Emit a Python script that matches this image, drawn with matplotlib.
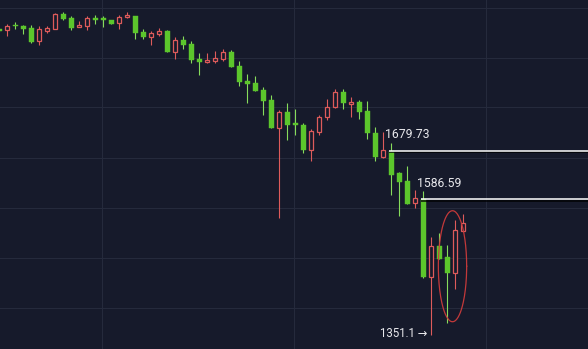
import numpy as np
import matplotlib
matplotlib.use("Agg")
import matplotlib.pyplot as plt
import matplotlib.patheffects as pe
from matplotlib.ticker import NullLocator

# ---- data ----
opens = [1939.4, 1937.1, 1947.5, 1946.3, 1941.7, 1912.8, 1935.5, 1940.1, 1974.1, 1964.8,
         1943.3, 1946.3, 1964.8, 1964.8, 1960.1, 1952.5, 1966.4, 1969.4, 1932.6, 1920.6,
         1928.0, 1934.1, 1887.5, 1914.4, 1905.4, 1872.6, 1865.3, 1866.8, 1872.6, 1887.5,
         1856.5, 1824.5, 1820.2, 1804.6, 1783.4, 1725.4, 1758.4, 1735.0, 1732.2, 1681.1,
         1717.3, 1747.4, 1768.1, 1800.3, 1775.0, 1779.2, 1759.8, 1715.9, 1667.6, 1679.73,
         1635.5, 1621.3, 1578.5, 1586.59, 1446.4, 1500.9, 1482.0, 1453.3, 1528.2]
highs = [1941.7, 1950.9, 1955.5, 1948.6, 1948.6, 1946.3, 1946.3, 1975.7, 1978.7, 1969.4,
         1957.1, 1969.4, 1972.4, 1969.4, 1961.3, 1972.4, 1978.7, 1970.5, 1938.7, 1935.5,
         1941.7, 1937.1, 1920.6, 1923.5, 1912.8, 1884.6, 1885.9, 1890.3, 1893.5, 1891.9,
         1866.8, 1839.0, 1834.7, 1811.7, 1794.6, 1762.5, 1776.5, 1764.0, 1736.3, 1722.7,
         1752.8, 1786.2, 1806.1, 1806.1, 1790.4, 1783.4, 1781.9, 1728.1, 1717.3, 1695.7,
         1638.0, 1649.6, 1603.5, 1601.1, 1517.5, 1524.7, 1502.2, 1547.7, 1558.7]
lows = [1932.6, 1923.5, 1939.4, 1928.0, 1906.5, 1902.4, 1931.0, 1938.7, 1960.1, 1937.1,
        1942.9, 1937.1, 1950.9, 1943.3, 1949.8, 1940.1, 1965.9, 1917.4, 1917.4, 1903.8,
        1923.5, 1886.4, 1872.6, 1893.5, 1863.8, 1836.2, 1862.4, 1862.4, 1868.2, 1854.3,
        1813.2, 1777.8, 1802.5, 1751.5, 1724.8, 1551.4, 1701.1, 1710.6, 1675.7, 1660.0,
        1711.8, 1741.8, 1766.7, 1764.0, 1747.4, 1744.5, 1703.7, 1658.8, 1664.4, 1593.5,
        1555.1, 1576.7, 1569.8, 1445.9, 1351.1, 1477.2, 1370.9, 1426.1, 1527.7]
closes = [1934.8, 1946.3, 1945.2, 1938.7, 1909.9, 1938.7, 1941.7, 1974.1, 1963.1, 1941.7,
          1949.3, 1964.8, 1960.1, 1960.1, 1950.9, 1967.8, 1971.0, 1931.0, 1920.6, 1931.0,
          1934.1, 1887.5, 1914.4, 1903.8, 1869.7, 1865.3, 1869.7, 1874.1, 1887.5, 1855.0,
          1821.7, 1817.4, 1803.1, 1781.9, 1725.4, 1758.4, 1732.2, 1730.9, 1681.1, 1719.9,
          1747.4, 1768.1, 1800.3, 1776.5, 1779.2, 1758.4, 1714.6, 1667.6, 1680.5, 1632.8,
          1618.8, 1577.3, 1588.5, 1446.4, 1500.9, 1478.6, 1453.3, 1529.5, 1542.8]

level_values = [1679.73, 1586.59]
level_start_idx = [49, 53]
low_label = "1351.1 →"
low_idx = 54

# ---- style ----
BG = "#161a2b"
GRID = "#252a3c"
GREEN = "#5cc62c"
GREEN_WICK = "#86dc5c"
RED = "#de5b5b"
TXT = "#e8e8ec"

o = np.array(opens); h = np.array(highs); l = np.array(lows); c = np.array(closes)
idx = np.arange(len(o))
up = c > o
down = ~up

fig = plt.figure(figsize=(5.88, 3.49), dpi=100, facecolor=BG)
ax = fig.add_axes([0, 0, 1, 1])
ax.set_facecolor(BG)
ax.set_yscale("log")
ax.set_xlim(0.0875, 73.5875)
ax.set_ylim(1329.0, 2007.0)
for s in ax.spines.values():
    s.set_visible(False)
ax.tick_params(which="both", left=False, bottom=False, labelleft=False, labelbottom=False)
ax.yaxis.set_minor_locator(NullLocator())

# grid (fixed screen positions)
for k in range(7):
    f = 1 - (7.5 + 50 * k) / 349
    ax.plot([0, 1], [f, f], transform=ax.transAxes, color=GRID, lw=0.8, zorder=0)
for xp in [102.4, 294.4, 486.4]:
    f = xp / 588
    ax.plot([f, f], [0, 1], transform=ax.transAxes, color=GRID, lw=0.8, zorder=0)

W = 0.62
# wicks
ax.vlines(idx[down], l[down], h[down], colors=GREEN_WICK, lw=0.8, zorder=2)
ax.vlines(idx[up], l[up], h[up], colors=RED, lw=0.8, zorder=2)
# bodies
ax.bar(idx[down], o[down] - c[down], bottom=c[down], width=W, color=GREEN,
       edgecolor=GREEN, lw=0.3, zorder=3)
ax.bar(idx[up], c[up] - o[up], bottom=o[up], width=W - 0.1, facecolor=BG,
       edgecolor=RED, lw=0.9, zorder=3)

# level lines + labels
for val, si in zip(level_values, level_start_idx):
    ax.hlines(val, si - 0.25, 73.6, colors="white", lw=1.1, zorder=4,
              path_effects=[pe.SimpleLineShadow(offset=(0, -1.2), shadow_color="black", alpha=0.9),
                            pe.Normal()])
    ax.text(si - 0.8, val * np.exp(16 / 846.6), f"{val:.2f}", color=TXT, fontsize=8.8,
            family=["Roboto", "DejaVu Sans"], va="center", ha="left", zorder=5)

ax.text(low_idx - 0.45, lows[low_idx] * np.exp(2 / 846.6), low_label, color=TXT, fontsize=8.3,
        family=["Roboto", "DejaVu Sans"], va="center", ha="right", zorder=5)

# ellipse around last candles (drawn in data space so it stays an ellipse on log axis)
cx, a = 56.65, 1.77
top_p, bot_p = 1564.8, 1372.5
ly = (np.log(top_p) + np.log(bot_p)) / 2
b = (np.log(top_p) - np.log(bot_p)) / 2
t = np.linspace(0, 2 * np.pi, 200)
ax.plot(cx + a * np.cos(t), np.exp(ly + b * np.sin(t)), color="#cc3b3b", lw=0.9, zorder=6, alpha=0.95)

fig.savefig("out.png", dpi=100, facecolor=BG)
